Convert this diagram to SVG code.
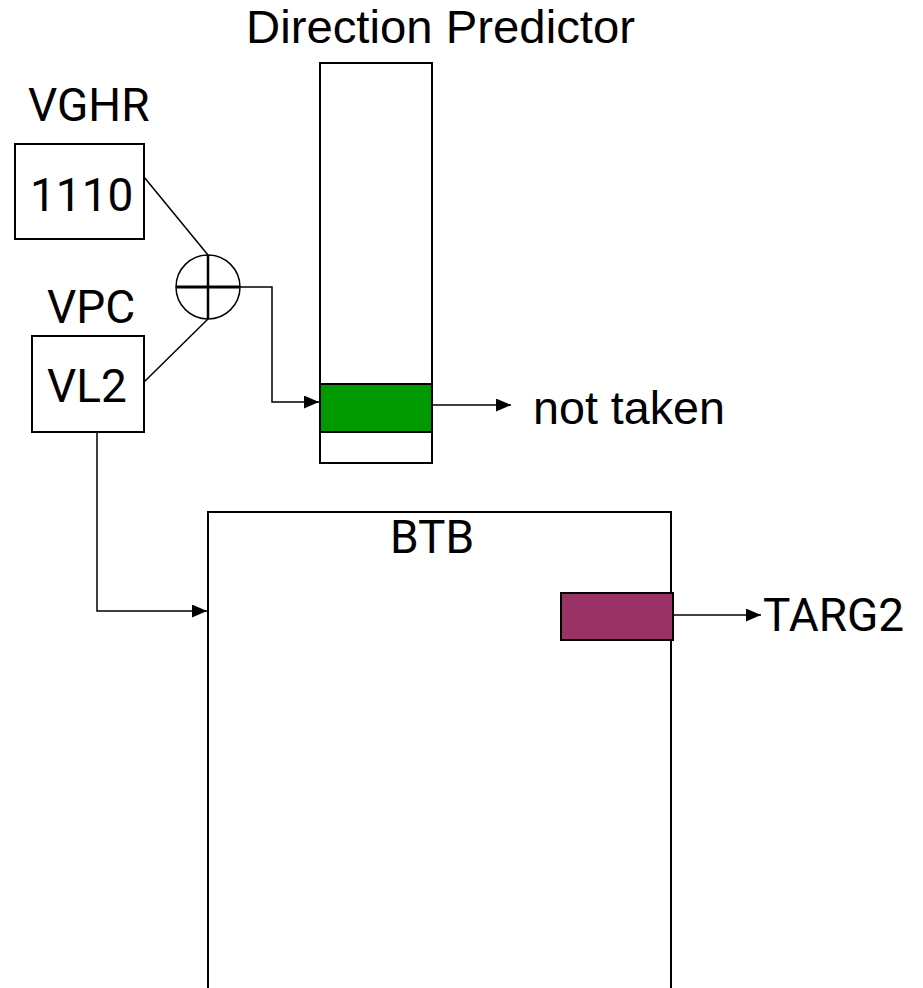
<svg xmlns="http://www.w3.org/2000/svg" width="923" height="988" viewBox="0 0 923 988">
<defs>
<style>
.box{fill:#fff;stroke:#000;stroke-width:2}
.ln{fill:none;stroke:#000;stroke-width:1.5}
.ta{font-family:"Liberation Sans",Arial,sans-serif;font-size:47px;fill:#000}
.tr{font-family:Roboto,"Liberation Sans",sans-serif;font-size:46px;fill:#000}
</style>
<marker id="ah" markerWidth="15" markerHeight="13" refX="15" refY="6.5" orient="auto" markerUnits="userSpaceOnUse">
<path d="M0,0 L15,6.5 L0,13 z" fill="#000"/>
</marker>
</defs>
<rect width="923" height="988" fill="#fff"/>
<g id="predictor">
<rect class="box" x="320" y="63" width="112" height="400"/>
<rect x="320" y="384" width="112" height="48" fill="#009900" stroke="#000" stroke-width="2"/>
<text class="ta" x="246" y="43" textLength="389" lengthAdjust="spacingAndGlyphs">Direction Predictor</text>
</g>
<g id="vghr">
<rect class="box" x="15" y="144" width="129" height="95"/>
<text class="tr" x="28" y="121">VGHR</text>
<text class="tr" x="30" y="211">1110</text>
</g>
<g id="vpc">
<rect class="box" x="32" y="336" width="112" height="96"/>
<text class="tr" x="47" y="323">VPC</text>
<text class="tr" x="47" y="402">VL2</text>
</g>
<g id="xor">
<circle cx="208" cy="287" r="32" fill="#fff" stroke="#000" stroke-width="1.5"/>
<line x1="176" y1="287" x2="240" y2="287" stroke="#000" stroke-width="3"/>
<line x1="208" y1="255" x2="208" y2="319" stroke="#000" stroke-width="2.5"/>
</g>
<g id="btb">
<path class="box" d="M208,995 V512 H671 V995"/>
<text class="tr" x="390" y="553">BTB</text>
<rect x="561" y="593" width="112" height="47" fill="#993366" stroke="#000" stroke-width="2"/>
</g>
<g id="labels">
<text class="ta" x="533" y="424" textLength="192" lengthAdjust="spacingAndGlyphs">not taken</text>
<text class="tr" x="763" y="631">TARG2</text>
</g>
<g id="connectors">
<line class="ln" x1="144" y1="177" x2="208" y2="255"/>
<line class="ln" x1="144" y1="382" x2="208" y2="319"/>
<path class="ln" d="M240,287 H272 V402 H319" marker-end="url(#ah)"/>
<path class="ln" d="M97,432 V611 H207" marker-end="url(#ah)"/>
<line class="ln" x1="432" y1="405" x2="511" y2="405" marker-end="url(#ah)"/>
<line class="ln" x1="673" y1="615" x2="761" y2="615" marker-end="url(#ah)"/>
</g>
</svg>
